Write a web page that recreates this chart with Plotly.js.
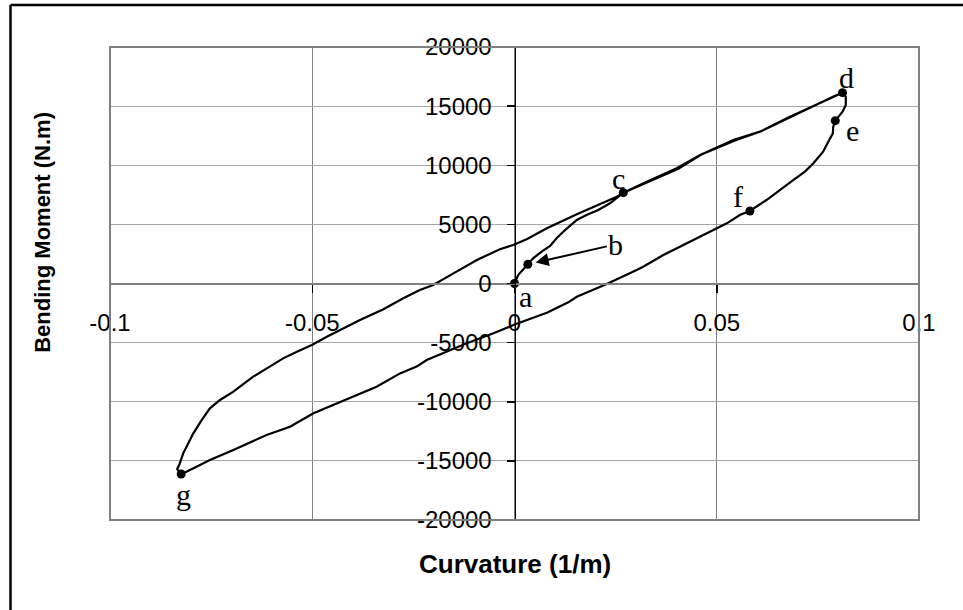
<!DOCTYPE html>
<html>
<head>
<meta charset="utf-8">
<script src="https://cdn.plot.ly/plotly-3.0.1.min.js"></script>
<style>
  html, body { margin: 0; padding: 0; background: #ffffff; }
  #chart { width: 963px; height: 610px; }
</style>
</head>
<body>
<div id="chart"></div>
<script>
// Moment-curvature path: loading a->b->c->d, unloading d->e->f->g, reloading g->c->d
var curvature = [
  0, 0.0009, 0.0033, 0.0046, 0.0067, 0.0088, 0.0104, 0.0125, 0.0154, 0.0178, 0.0207, 0.0236, 0.0257, 0.0269,
  0.0327, 0.0401, 0.0459, 0.0541, 0.0607, 0.0673, 0.0739, 0.0788, 0.0811,
  0.0819, 0.0819, 0.0811, 0.0793, 0.0788, 0.0787, 0.0778, 0.0763, 0.0739, 0.0718, 0.0689, 0.0656, 0.0623, 0.0582,
  0.0557, 0.0525, 0.0492, 0.0450, 0.0409, 0.0368, 0.0318, 0.0302, 0.0228, 0.0154, 0.0133, 0.0080, 0.0002,
  -0.0052, -0.0118, -0.0159, -0.0217, -0.0242, -0.0283, -0.0341, -0.0399, -0.0431, -0.0497, -0.0555, -0.0613,
  -0.0695, -0.0753, -0.0811, -0.0824,
  -0.0834, -0.0829, -0.0819, -0.0802, -0.0794, -0.0773, -0.0753, -0.0728, -0.0695, -0.0646, -0.0613, -0.0572,
  -0.0538, -0.0501, -0.0464, -0.0423, -0.0382, -0.0324, -0.0275, -0.0234, -0.0201, -0.0151, -0.0093, -0.0036,
  -0.0003, 0.0030, 0.0080, 0.0154, 0.0211, 0.0253, 0.0275, 0.0330, 0.0405, 0.0462, 0.0545, 0.0610, 0.0676,
  0.0742, 0.0790, 0.0811
];
var moment = [
  0, 720, 1620, 2130, 2690, 3170, 3820, 4520, 5370, 5790, 6220, 6780, 7340, 7680,
  8610, 9740, 10870, 12140, 12840, 13970, 15010, 15800, 16140,
  15800, 15100, 14530, 13770, 13260, 12700, 12140, 11150, 10170, 9460, 8750, 7910, 7060, 6130,
  5790, 5090, 4520, 3820, 3110, 2410, 1420, 1140, -40, -1120, -1590, -2470, -3450,
  -4210, -5060, -5620, -6470, -7030, -7600, -8730, -9570, -10000, -10980, -12110, -12810,
  -14080, -14930, -15920, -16110,
  -15700, -15350, -14360, -13240, -12670, -11540, -10560, -9850, -9150, -7880, -7170, -6330,
  -5770, -5200, -4500, -3790, -3090, -2180, -1250, -550, -130, 860, 1990, 2900,
  3260, 3750, 4670, 5860, 6680, 7340, 7760, 8580, 9700, 10900, 12100, 12880, 14000,
  15050, 15830, 16140
];

// Marked points
var keyLabels = ['a', 'b', 'c', 'd', 'e', 'f', 'g'];
var keyCurvature = [0, 0.0033, 0.0269, 0.0811, 0.0793, 0.0582, -0.0824];
var keyMoment = [0, 1620, 7680, 16140, 13770, 6130, -16110];

// Axis ticks
var xTickVals = [-0.1, -0.05, 0, 0.05, 0.1];
var xTickText = ['-0.1', '-0.05', '0', '0.05', '0.1'];
var yTickVals = [20000, 15000, 10000, 5000, 0, -5000, -10000, -15000, -20000];
var yTickText = ['20000', '15000', '10000', '5000', '0', '-5000', '-10000', '-15000', '-20000'];

var xTitle = 'Curvature (1/m)';
var yTitle = 'Bending Moment (N.m)';

// label offsets in pixels (style)
var labelShift = {
  a: [11, -13], c: [-5, 14], d: [4, 15], e: [17, -10], f: [-12, 15], g: [2, -20]
};

var sansFont = 'Arial, "Liberation Sans", sans-serif';
var serifFont = '"Times New Roman", "Liberation Serif", serif';

var traces = [
  {
    x: curvature, y: moment, type: 'scatter', mode: 'lines',
    line: { color: '#000000', width: 2.2 }, hoverinfo: 'skip', showlegend: false
  },
  {
    x: keyCurvature, y: keyMoment, type: 'scatter', mode: 'markers',
    marker: { color: '#000000', size: 9 }, hoverinfo: 'skip', showlegend: false
  }
];

var annotations = [];
keyLabels.forEach(function (lab, i) {
  if (lab === 'b') {
    annotations.push({
      x: keyCurvature[i], y: keyMoment[i], xref: 'x', yref: 'y',
      text: lab, showarrow: true, ax: 88, ay: -20,
      arrowhead: 2, arrowsize: 1.3, arrowwidth: 2, arrowcolor: '#000000', standoff: 8,
      font: { family: serifFont, size: 30, color: '#000000' }
    });
  } else {
    annotations.push({
      x: keyCurvature[i], y: keyMoment[i], xref: 'x', yref: 'y',
      text: lab, showarrow: false,
      xshift: labelShift[lab][0], yshift: labelShift[lab][1],
      font: { family: serifFont, size: 30, color: '#000000' }
    });
  }
});
annotations.push({
  text: xTitle, xref: 'paper', yref: 'paper', x: 0.5, y: -0.093,
  showarrow: false, xanchor: 'center', yanchor: 'middle',
  font: { family: sansFont, size: 26, color: '#000000', weight: 'bold' }
});
annotations.push({
  text: yTitle, xref: 'paper', yref: 'paper', x: -0.083, y: 0.609,
  showarrow: false, textangle: -90, xanchor: 'center', yanchor: 'middle',
  font: { family: sansFont, size: 22, color: '#000000', weight: 'bold' }
});

var layout = {
  width: 963, height: 610,
  margin: { l: 110, r: 44, t: 47, b: 90, pad: 0 },
  paper_bgcolor: '#ffffff', plot_bgcolor: '#ffffff',
  showlegend: false,
  font: { family: sansFont, size: 24, color: '#000000' },
  xaxis: {
    range: [-0.1, 0.1], tickmode: 'array', tickvals: xTickVals, ticktext: xTickText,
    anchor: 'free', position: 0.5,
    showgrid: true, gridcolor: '#808080', gridwidth: 1,
    zeroline: false, showline: true, linecolor: '#808080', linewidth: 2,
    ticks: 'outside', ticklen: 8, tickwidth: 1.5, tickcolor: '#000000',
    ticklabelstandoff: 10,
    tickfont: { family: sansFont, size: 24, color: '#000000' },
    fixedrange: true
  },
  yaxis: {
    range: [-20000, 20000], tickmode: 'array', tickvals: yTickVals, ticktext: yTickText,
    anchor: 'free', position: 0.5,
    showgrid: true, gridcolor: '#a6a6a6', gridwidth: 1,
    zeroline: false, showline: true, linecolor: '#000000', linewidth: 1,
    ticks: 'outside', ticklen: 8, tickwidth: 1.5, tickcolor: '#000000',
    ticklabelstandoff: 10,
    tickfont: { family: sansFont, size: 24, color: '#000000' },
    fixedrange: true
  },
  shapes: [
    { type: 'rect', xref: 'paper', yref: 'paper', x0: 0, x1: 1, y0: 0, y1: 1,
      line: { color: '#808080', width: 2 }, layer: 'above' },
    { type: 'line', xref: 'paper', yref: 'paper', x0: -0.123, x1: 1.1, y0: 1.0888, y1: 1.0888,
      line: { color: '#000000', width: 2.5 } },
    { type: 'line', xref: 'paper', yref: 'paper', x0: -0.123, x1: -0.123, y0: -0.3, y1: 1.0888,
      line: { color: '#000000', width: 2.5 } }
  ],
  annotations: annotations
};

Plotly.newPlot('chart', traces, layout, { displayModeBar: false, staticPlot: true });
</script>
</body>
</html>
